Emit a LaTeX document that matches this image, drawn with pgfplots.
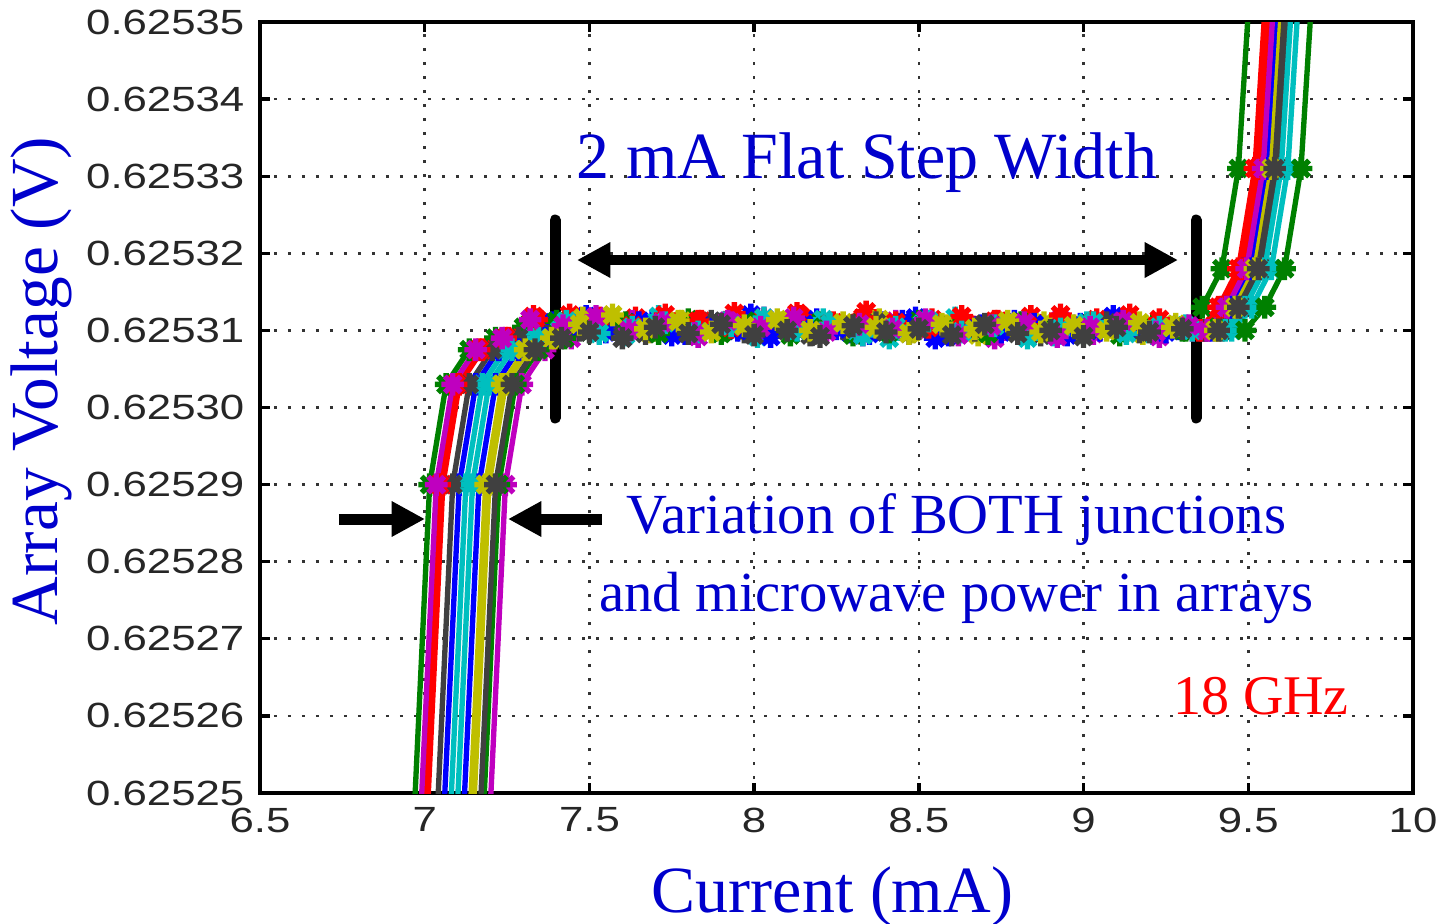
\documentclass[border=0pt]{standalone}
\usepackage{pgfplots}
\pgfplotsset{compat=1.18}
\usepackage{fontspec}
\setmainfont{Liberation Serif}
\newfontfamily\arialfont{Liberation Sans}
\usetikzlibrary{arrows.meta}
\usepackage{graphicx}

% MATLAB default colour order
\definecolor{mb}{rgb}{0,0,1}
\definecolor{mg}{rgb}{0,0.5,0}
\definecolor{mr}{rgb}{1,0,0}
\definecolor{mc}{rgb}{0,0.75,0.75}
\definecolor{mm}{rgb}{0.75,0,0.75}
\definecolor{my}{rgb}{0.75,0.75,0}
\definecolor{mk}{rgb}{0.25,0.25,0.25}
\definecolor{txtblue}{rgb}{0,0,0.8}

% thick matlab-like '*' marker
\pgfdeclareplotmark{burst}{%
  \pgfpathcircle{\pgfpointorigin}{0.45\pgfplotmarksize}%
  \pgfusepathqfillstroke
  \pgfpathmoveto{\pgfqpoint{-\pgfplotmarksize}{0pt}}\pgfpathlineto{\pgfqpoint{\pgfplotmarksize}{0pt}}%
  \pgfpathmoveto{\pgfqpoint{0pt}{-\pgfplotmarksize}}\pgfpathlineto{\pgfqpoint{0pt}{\pgfplotmarksize}}%
  \pgfpathmoveto{\pgfqpoint{-0.707\pgfplotmarksize}{-0.707\pgfplotmarksize}}\pgfpathlineto{\pgfqpoint{0.707\pgfplotmarksize}{0.707\pgfplotmarksize}}%
  \pgfpathmoveto{\pgfqpoint{-0.707\pgfplotmarksize}{0.707\pgfplotmarksize}}\pgfpathlineto{\pgfqpoint{0.707\pgfplotmarksize}{-0.707\pgfplotmarksize}}%
  \pgfusepathqstroke}

\pgfplotsset{iv/.style={#1, line width=1.6pt, mark=burst, mark size=3.4pt}}

\newcommand{\tk}[1]{\scalebox{1.25}[1]{#1}}

% voltages differ only in the 6th digit, so shift them before pgfplots' float math;
% accept plain numbers or pgf float format
\makeatletter
\newcommand\tofp[1]{\pgfutil@in@{Y}{#1}%
  \ifpgfutil@in@\pgfmathfloattosci{#1}\let\fparg\pgfmathresult\else\def\fparg{#1}\fi}
\makeatother

\begin{document}
\begin{tikzpicture}
\useasboundingbox (-78pt,-39pt) rectangle (355.5pt,237.9pt);
\begin{axis}[
  scale only axis, width=345.9pt, height=231.3pt,
  xmin=6.5, xmax=10, ymin=0.62525, ymax=0.62535,
  y coord trafo/.code={\tofp{#1}\edef\pgfmathresult{\fpeval{(\fparg-0.6252)*100000}}},
  xtick={6.5,7,7.5,8,8.5,9,9.5,10},
  xticklabels={\tk{6.5},\tk{7},\tk{7.5},\tk{8},\tk{8.5},\tk{9},\tk{9.5},\tk{10}},
  ytick={0.62525,0.62526,0.62527,0.62528,0.62529,0.6253,0.62531,0.62532,0.62533,0.62534,0.62535},
  yticklabels={\tk{0.62525},\tk{0.62526},\tk{0.62527},\tk{0.62528},\tk{0.62529},\tk{0.62530},\tk{0.62531},\tk{0.62532},\tk{0.62533},\tk{0.62534},\tk{0.62535}},
  xtick pos=both, ytick pos=both,
  tick align=inside, major tick length=3pt,
  every tick/.style={black, line width=1pt},
  axis line style={line width=1.2pt},
  grid=major,
  grid style={black!80, line width=0.8pt, dash pattern=on 0.8pt off 3.4pt},
  ticklabel style={font=\arialfont\fontsize{10.5}{12}\selectfont, text=black!85, inner sep=0pt},
  yticklabel style={anchor=east, xshift=-4.5pt},
  xticklabel style={anchor=north, yshift=-4.2pt},
  xlabel={Current (mA)},
  ylabel={Array Voltage (V)},
  label style={text=txtblue},
  xlabel style={font=\fontsize{19.8}{22}\selectfont, at={(axis description cs:0.4965,-0.1556)}, anchor=base},
  ylabel style={font=\fontsize{20.2}{22}\selectfont, at={(axis description cs:-0.1752,0.5344)}, anchor=base},
  clip=true,
]
% series 1 (b)
\addplot[iv=mb] coordinates {
(7.05,0.625240) (7.105,0.625290) (7.155,0.625303) (7.225,0.6253075) (7.305,0.625309)
(7.39,0.6253110) (7.49,0.6253118) (7.59,0.6253102) (7.69,0.6253112) (7.79,0.6253096)
(7.89,0.6253108) (7.99,0.6253120) (8.09,0.6253104) (8.19,0.6253114) (8.29,0.6253098)
(8.39,0.6253110) (8.49,0.6253116) (8.59,0.6253094) (8.69,0.6253106) (8.79,0.6253112)
(8.89,0.6253100) (8.99,0.6253108) (9.09,0.6253118) (9.19,0.6253104) (9.29,0.6253102)
(9.365,0.625310) (9.425,0.625313) (9.485,0.625318) (9.535,0.625331) (9.585,0.625365)};
% series 2 (g)
\addplot[iv=mg] coordinates {
(6.96,0.625240) (7.015,0.625290) (7.065,0.625303) (7.135,0.6253075) (7.215,0.625309)
(7.30,0.6253104) (7.40,0.6253112) (7.50,0.6253098) (7.60,0.6253106) (7.70,0.6253100)
(7.80,0.6253114) (7.90,0.6253096) (8.00,0.6253108) (8.10,0.6253102) (8.20,0.6253110)
(8.30,0.6253094) (8.40,0.6253106) (8.50,0.6253112) (8.60,0.6253098) (8.70,0.6253104)
(8.80,0.6253108) (8.90,0.6253100) (9.00,0.6253096) (9.10,0.6253106) (9.20,0.6253102)
(9.30,0.625310) (9.36,0.625313) (9.42,0.625318) (9.47,0.625331) (9.52,0.625365)};
% series 3 (r)
\addplot[iv=mr] coordinates {
(7.00,0.625240) (7.055,0.625290) (7.105,0.625303) (7.175,0.6253075) (7.255,0.625309)
(7.34,0.6253114) (7.44,0.6253120) (7.54,0.6253108) (7.64,0.6253116) (7.74,0.6253104)
(7.84,0.6253112) (7.94,0.6253122) (8.04,0.6253106) (8.14,0.6253118) (8.24,0.6253110)
(8.34,0.6253124) (8.44,0.6253108) (8.54,0.6253114) (8.64,0.6253102) (8.74,0.6253112)
(8.84,0.6253118) (8.94,0.6253106) (9.04,0.6253114) (9.14,0.6253120) (9.24,0.6253104)
(9.36,0.625310) (9.42,0.625313) (9.48,0.625318) (9.53,0.625331) (9.58,0.625365)};
% series 4 (c)
\addplot[iv=mc] coordinates {
(7.07,0.625240) (7.125,0.625290) (7.175,0.625303) (7.245,0.6253075) (7.325,0.625309)
(7.41,0.6253100) (7.51,0.6253108) (7.61,0.6253094) (7.71,0.6253118) (7.81,0.6253102)
(7.91,0.6253110) (8.01,0.6253092) (8.11,0.6253106) (8.21,0.6253114) (8.31,0.6253100)
(8.41,0.6253090) (8.51,0.6253108) (8.61,0.6253116) (8.71,0.6253098) (8.81,0.6253104)
(8.91,0.6253094) (9.01,0.6253110) (9.11,0.6253102) (9.21,0.6253096) (9.31,0.6253106)
(9.45,0.625310) (9.51,0.625313) (9.57,0.625318) (9.62,0.625331) (9.67,0.625365)};
% series 5 (m)
\addplot[iv=mm] coordinates {
(7.19,0.625240) (7.245,0.625290) (7.295,0.625303) (7.365,0.6253075) (7.445,0.625309)
(7.53,0.6253098) (7.63,0.6253112) (7.73,0.6253104) (7.83,0.6253092) (7.93,0.6253110)
(8.03,0.6253116) (8.13,0.6253100) (8.23,0.6253106) (8.33,0.6253094) (8.43,0.6253112)
(8.53,0.6253102) (8.63,0.6253108) (8.73,0.6253090) (8.83,0.6253104) (8.93,0.6253114)
(9.03,0.6253096) (9.13,0.6253106) (9.23,0.6253092) (9.33,0.6253100)
(9.38,0.625310) (9.44,0.625313) (9.50,0.625318) (9.55,0.625331) (9.60,0.625365)};
% series 6 (y)
\addplot[iv=my] coordinates {
(7.14,0.625240) (7.195,0.625290) (7.245,0.625303) (7.315,0.6253075) (7.395,0.625309)
(7.48,0.6253116) (7.58,0.6253104) (7.68,0.6253098) (7.78,0.6253112) (7.88,0.6253106)
(7.98,0.6253100) (8.08,0.6253110) (8.18,0.6253096) (8.28,0.6253104) (8.38,0.6253114)
(8.48,0.6253098) (8.58,0.6253106) (8.68,0.6253094) (8.78,0.6253102) (8.88,0.6253110)
(8.98,0.6253098) (9.08,0.6253104) (9.18,0.6253096) (9.28,0.6253108)
(9.405,0.625310) (9.465,0.625313) (9.525,0.625318) (9.575,0.625331) (9.625,0.625365)};
% series 7 (k)
\addplot[iv=mk] coordinates {
(7.03,0.625240) (7.085,0.625290) (7.135,0.625303) (7.205,0.6253075) (7.285,0.625309)
(7.37,0.6253092) (7.47,0.6253100) (7.57,0.6253108) (7.67,0.6253096) (7.77,0.6253104)
(7.87,0.6253112) (7.97,0.6253098) (8.07,0.6253106) (8.17,0.6253094) (8.27,0.6253102)
(8.37,0.6253110) (8.47,0.6253096) (8.57,0.6253104) (8.67,0.6253100) (8.77,0.6253108)
(8.87,0.6253094) (8.97,0.6253102) (9.07,0.6253110) (9.17,0.6253098) (9.27,0.6253104)
(9.37,0.6253100)
(9.42,0.625310) (9.48,0.625313) (9.54,0.625318) (9.59,0.625331) (9.64,0.625365)};
% series 8 (b)
\addplot[iv=mb] coordinates {
(7.11,0.625240) (7.165,0.625290) (7.215,0.625303) (7.285,0.6253075) (7.365,0.625309)
(7.45,0.6253106) (7.55,0.6253098) (7.65,0.6253110) (7.75,0.6253094) (7.85,0.6253104)
(7.95,0.6253100) (8.05,0.6253092) (8.15,0.6253108) (8.25,0.6253102) (8.35,0.6253096)
(8.45,0.6253112) (8.55,0.6253090) (8.65,0.6253104) (8.75,0.6253098) (8.85,0.6253108)
(8.95,0.6253094) (9.05,0.6253100) (9.15,0.6253106) (9.25,0.6253098)
(9.39,0.625310) (9.45,0.625313) (9.51,0.625318) (9.56,0.625331) (9.61,0.625365)};
% series 9 (g)
\addplot[iv=mg] coordinates {
(7.17,0.625240) (7.225,0.625290) (7.275,0.625303) (7.345,0.6253075) (7.425,0.625309)
(7.51,0.6253102) (7.61,0.6253110) (7.71,0.6253096) (7.81,0.6253106) (7.91,0.6253100)
(8.01,0.6253112) (8.11,0.6253094) (8.21,0.6253104) (8.31,0.6253108) (8.41,0.6253098)
(8.51,0.6253106) (8.61,0.6253102) (8.71,0.6253096) (8.81,0.6253110) (8.91,0.6253100)
(9.01,0.6253104) (9.11,0.6253094) (9.21,0.6253108) (9.31,0.6253100) (9.41,0.6253104)
(9.49,0.625310) (9.55,0.625313) (9.61,0.625318) (9.66,0.625331) (9.71,0.625365)};
% series 10 (r)
\addplot[iv=mr] coordinates {
(6.99,0.625240) (7.045,0.625290) (7.095,0.625303) (7.165,0.6253075) (7.245,0.625309)
(7.33,0.6253118) (7.43,0.6253110) (7.53,0.6253116) (7.63,0.6253106) (7.73,0.6253120)
(7.83,0.6253112) (7.93,0.6253104) (8.03,0.6253114) (8.13,0.6253122) (8.23,0.6253108)
(8.33,0.6253116) (8.43,0.6253110) (8.53,0.6253104) (8.63,0.6253118) (8.73,0.6253112)
(8.83,0.6253106) (8.93,0.6253120) (9.03,0.6253110) (9.13,0.6253108) (9.23,0.6253114)
(9.35,0.625310) (9.41,0.625313) (9.47,0.625318) (9.52,0.625331) (9.57,0.625365)};
% series 11 (c)
\addplot[iv=mc] coordinates {
(7.09,0.625240) (7.145,0.625290) (7.195,0.625303) (7.265,0.6253075) (7.345,0.625309)
(7.43,0.6253112) (7.53,0.6253096) (7.63,0.6253104) (7.73,0.6253110) (7.83,0.6253098)
(7.93,0.6253106) (8.03,0.6253116) (8.13,0.6253100) (8.23,0.6253108) (8.33,0.6253094)
(8.43,0.6253104) (8.53,0.6253112) (8.63,0.6253098) (8.73,0.6253106) (8.83,0.6253090)
(8.93,0.6253102) (9.03,0.6253110) (9.13,0.6253096) (9.23,0.6253104) (9.33,0.6253100)
(9.43,0.625310) (9.49,0.625313) (9.55,0.625318) (9.60,0.625331) (9.65,0.625365)};
% series 12 (m)
\addplot[iv=mm] coordinates {
(6.98,0.625240) (7.035,0.625290) (7.085,0.625303) (7.155,0.6253075) (7.235,0.625309)
(7.32,0.6253114) (7.42,0.6253106) (7.52,0.6253118) (7.62,0.6253100) (7.72,0.6253110)
(7.82,0.6253096) (7.92,0.6253112) (8.02,0.6253104) (8.12,0.6253116) (8.22,0.6253098)
(8.32,0.6253108) (8.42,0.6253102) (8.52,0.6253114) (8.62,0.6253094) (8.72,0.6253106)
(8.82,0.6253110) (8.92,0.6253092) (9.02,0.6253104) (9.12,0.6253112) (9.22,0.6253098)
(9.32,0.6253106)
(9.375,0.625310) (9.435,0.625313) (9.495,0.625318) (9.545,0.625331) (9.595,0.625365)};
% series 13 (y)
\addplot[iv=my] coordinates {
(7.13,0.625240) (7.185,0.625290) (7.235,0.625303) (7.305,0.6253075) (7.385,0.625309)
(7.47,0.6253108) (7.57,0.6253120) (7.67,0.6253102) (7.77,0.6253112) (7.87,0.6253098)
(7.97,0.6253106) (8.07,0.6253114) (8.17,0.6253100) (8.27,0.6253110) (8.37,0.6253104)
(8.47,0.6253096) (8.57,0.6253108) (8.67,0.6253102) (8.77,0.6253112) (8.87,0.6253098)
(8.97,0.6253106) (9.07,0.6253100) (9.17,0.6253110) (9.27,0.6253104)
(9.40,0.625310) (9.46,0.625313) (9.52,0.625318) (9.57,0.625331) (9.62,0.625365)};
% series 14 (k)
\addplot[iv=mk] coordinates {
(7.16,0.625240) (7.215,0.625290) (7.265,0.625303) (7.335,0.6253075) (7.415,0.625309)
(7.50,0.6253098) (7.60,0.6253090) (7.70,0.6253104) (7.80,0.6253096) (7.90,0.6253108)
(8.00,0.6253094) (8.10,0.6253100) (8.20,0.6253092) (8.30,0.6253106) (8.40,0.6253098)
(8.50,0.6253102) (8.60,0.6253094) (8.70,0.6253108) (8.80,0.6253096) (8.90,0.6253100)
(9.00,0.6253092) (9.10,0.6253104) (9.20,0.6253098) (9.30,0.6253102)
(9.41,0.625310) (9.47,0.625313) (9.53,0.625318) (9.58,0.625331) (9.63,0.625365)};

% annotations
\draw[line width=3.3pt, line cap=round] (rel axis cs:0.2559,0.7432) -- (rel axis cs:0.2559,0.4864);
\draw[line width=3.3pt, line cap=round] (rel axis cs:0.8118,0.7432) -- (rel axis cs:0.8118,0.4864);
\draw[line width=3pt, {Triangle[length=10pt,width=10pt]}-{Triangle[length=10pt,width=10pt]}]
  (rel axis cs:0.2749,0.6913) -- (rel axis cs:0.7962,0.6913);
\draw[line width=3.3pt, -{Triangle[length=10pt,width=10pt]}]
  (rel axis cs:0.0685,0.3554) -- (rel axis cs:0.1431,0.3554);
\draw[line width=3.3pt, -{Triangle[length=10pt,width=10pt]}]
  (rel axis cs:0.2966,0.3554) -- (rel axis cs:0.2151,0.3554);
\node[anchor=base, inner sep=0pt, text=txtblue, font=\fontsize{19.8}{22}\selectfont]
  at (rel axis cs:0.5265,0.7964) {2 mA Flat Step Width};
\node[anchor=base, inner sep=0pt, text=txtblue, font=\fontsize{17}{20}\selectfont]
  at (rel axis cs:0.6041,0.3372) {Variation of BOTH junctions};
\node[anchor=base, inner sep=0pt, text=txtblue, font=\fontsize{17}{20}\selectfont]
  at (rel axis cs:0.6041,0.2348) {and microwave power in arrays};
\node[anchor=base, inner sep=0pt, text=red, font=\fontsize{16.8}{20}\selectfont]
  at (rel axis cs:0.8682,0.1012) {18 GHz};
\end{axis}
\end{tikzpicture}
\end{document}
